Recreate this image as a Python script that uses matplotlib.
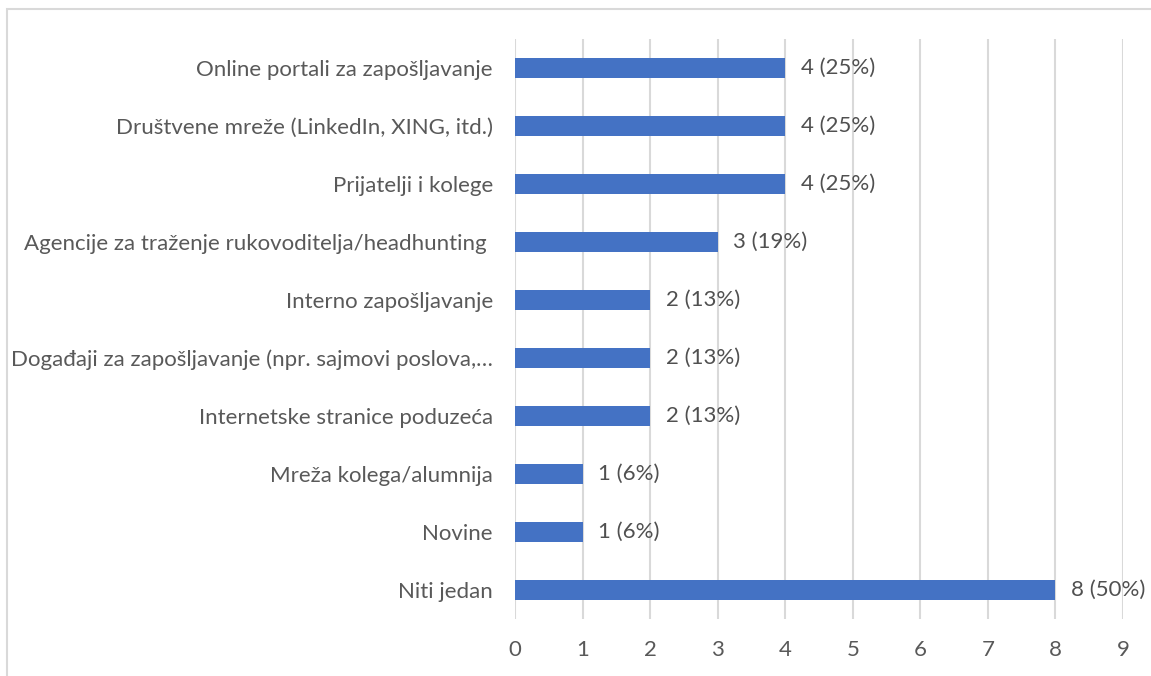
import matplotlib
matplotlib.use("Agg")
import matplotlib.pyplot as plt
from matplotlib.patches import Rectangle

categories = [
    "Online portali za zapošljavanje",
    "Društvene mreže (LinkedIn, XING, itd.)",
    "Prijatelji i kolege",
    "Agencije za traženje rukovoditelja/headhunting ",
    "Interno zapošljavanje",
    "Događaji za zapošljavanje (npr. sajmovi poslova,…",
    "Internetske stranice poduzeća",
    "Mreža kolega/alumnija",
    "Novine",
    "Niti jedan",
]
values = [4, 4, 4, 3, 2, 2, 2, 1, 1, 8]
labels = ["4 (25%)", "4 (25%)", "4 (25%)", "3 (19%)", "2 (13%)", "2 (13%)",
          "2 (13%)", "1 (6%)", "1 (6%)", "8 (50%)"]
xticks = list(range(0, 10))

plt.rcParams['font.family'] = ['Lato', 'DejaVu Sans']
W, H = 1151, 676
fig = plt.figure(figsize=(W / 100, H / 100), dpi=100)
ax = fig.add_axes([515 / W, 1 - 619 / H, (1123 - 515) / W, (619 - 39) / H])

# outer frame
fig.patches.append(Rectangle((7 / W, -0.1), 1.2, 1 - 9 / H + 0.1, transform=fig.transFigure,
                             fill=False, edgecolor='#D9D9D9', linewidth=1.5, zorder=0))

ypos = list(range(len(categories)))
ax.barh(ypos, values, height=0.36, color='#4472C4', zorder=3)
for y, v, t in zip(ypos, values, labels):
    ax.text(v + 0.23, y, t, va='center', ha='left', fontsize=16, color='#505050')

ax.set_xlim(0, 9)
ax.set_ylim(len(categories) - 0.5, -0.5)
ax.set_xticks(xticks)
ax.set_yticks(ypos)
ax.set_yticklabels(categories)
ax.tick_params(axis='y', length=0, pad=16, labelsize=16, labelcolor='#595959')
ax.tick_params(axis='x', length=0, pad=15, labelsize=16, labelcolor='#595959')
ax.grid(axis='x', color='#D9D9D9', linewidth=1.5, zorder=0)
for s in ax.spines.values():
    s.set_visible(False)

fig.savefig("out.png", dpi=100)
